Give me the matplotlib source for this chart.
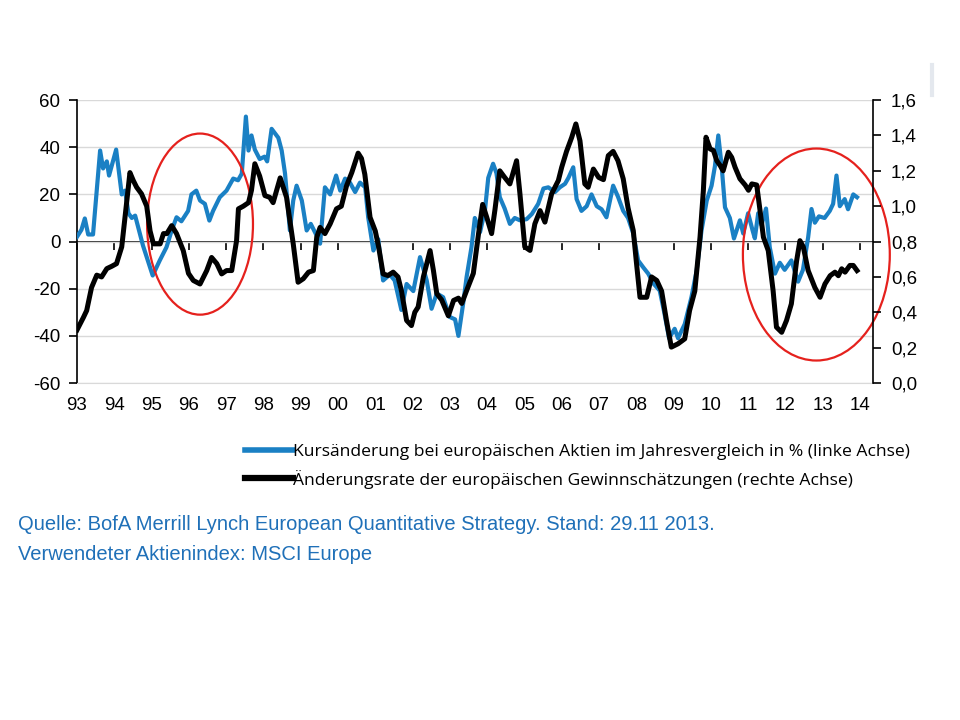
import matplotlib.pyplot as plt
from matplotlib.patches import Ellipse

# Kursaenderung europaeischer Aktien (linke Achse, %)
kurs_jahr = [1993.00, 1993.12, 1993.21, 1993.30, 1993.43, 1993.62, 1993.70, 1993.80, 1993.86, 1994.05,
             1994.20, 1994.29, 1994.38, 1994.47, 1994.56, 1994.77, 1995.03, 1995.22, 1995.40, 1995.54,
             1995.67, 1995.80, 1995.98, 1996.07, 1996.20, 1996.30, 1996.43, 1996.55, 1996.65, 1996.83,
             1997.01, 1997.19, 1997.32, 1997.42, 1997.53, 1997.60, 1997.68, 1997.77, 1997.90, 1998.03,
             1998.10, 1998.22, 1998.40, 1998.49, 1998.58, 1998.71, 1998.80, 1998.89, 1999.03, 1999.16,
             1999.27, 1999.40, 1999.52, 1999.65, 1999.79, 1999.95, 2000.06, 2000.19, 2000.32, 2000.46,
             2000.59, 2000.73, 2000.81, 2000.95, 2001.08, 2001.21, 2001.39, 2001.52, 2001.70, 2001.84,
             2002.02, 2002.20, 2002.38, 2002.51, 2002.65, 2002.82, 2003.00, 2003.14, 2003.23, 2003.36,
             2003.45, 2003.58, 2003.67, 2003.81, 2003.94, 2004.03, 2004.16, 2004.25, 2004.34, 2004.47,
             2004.61, 2004.74, 2004.88, 2005.06, 2005.20, 2005.37, 2005.51, 2005.64, 2005.82, 2005.95,
             2006.09, 2006.18, 2006.31, 2006.40, 2006.53, 2006.67, 2006.80, 2006.94, 2007.07, 2007.20,
             2007.38, 2007.51, 2007.65, 2007.78, 2007.92, 2008.05, 2008.19, 2008.32, 2008.46, 2008.63,
             2008.75, 2008.88, 2009.03, 2009.12, 2009.30, 2009.48, 2009.62, 2009.75, 2009.89, 2010.02,
             2010.11, 2010.20, 2010.29, 2010.38, 2010.51, 2010.62, 2010.78, 2010.87, 2011.00, 2011.12,
             2011.18, 2011.27, 2011.36, 2011.48, 2011.58, 2011.72, 2011.85, 2011.98, 2012.16, 2012.34,
             2012.47, 2012.61, 2012.70, 2012.79, 2012.90, 2013.05, 2013.19, 2013.28, 2013.37, 2013.46,
             2013.59, 2013.68, 2013.82, 2013.92]
kurs_pct = [2, 5, 9.8, 3, 3, 38.6, 31, 34, 28, 39,
            20, 21.6, 12, 10, 11, -1.7, -14.4, -8, -2.4, 4.7,
            10.3, 8.6, 13, 20, 21.6, 17.4, 16, 8.9, 13, 18.8,
            21.6, 26.7, 26, 28.8, 53, 38.6, 45, 39, 35, 36,
            34, 47.8, 44, 38.6, 28.8, 4.7, 17.4, 23.7, 17.4, 4.7,
            7.5, 3.4, -0.9, 23, 20, 28, 21.6, 26.7, 25, 21,
            25, 23, 10.3, -3.8, 1, -16.5, -14, -16.5, -29, -18,
            -21, -6.6, -16.5, -28.5, -22, -23.6, -32, -33, -40, -26,
            -15, -2.4, 10, 4, 13, 27, 33, 29, 18.8, 14,
            7.5, 10, 9, 9.5, 11.7, 16, 22.5, 23, 21, 23,
            24.5, 27, 31.5, 18, 13, 15, 20, 15, 13.7, 10.3,
            23.7, 19, 13, 10, 3.4, -8, -11, -13.6, -17.8, -20.8,
            -30, -41, -37, -41, -35, -23.6, -12.3, 4.7, 17.4, 23.7,
            32, 45, 32, 14.5, 10, 1.3, 9, 3.4, 12, 4.7,
            1.4, 12, 7, 14, -2.4, -13.6, -9, -12, -8, -17,
            -12, 1.8, 13.8, 8, 10.7, 10, 13, 16, 28, 15,
            18, 13.7, 20, 18.8]

# Aenderungsrate der Gewinnschaetzungen (rechte Achse)
gewinn_jahr = [1993.00, 1993.17, 1993.26, 1993.39, 1993.53, 1993.66, 1993.80, 1993.93, 1994.06, 1994.20,
               1994.29, 1994.42, 1994.51, 1994.60, 1994.73, 1994.87, 1994.96, 1995.05, 1995.23, 1995.32,
               1995.41, 1995.54, 1995.67, 1995.85, 1995.99, 1996.12, 1996.30, 1996.48, 1996.61, 1996.75,
               1996.88, 1997.01, 1997.15, 1997.28, 1997.33, 1997.46, 1997.60, 1997.68, 1997.77, 1997.90,
               1998.04, 1998.17, 1998.26, 1998.45, 1998.62, 1998.80, 1998.93, 1999.07, 1999.21, 1999.34,
               1999.43, 1999.52, 1999.65, 1999.79, 1999.96, 2000.09, 2000.23, 2000.37, 2000.54, 2000.63,
               2000.72, 2000.86, 2001.00, 2001.09, 2001.21, 2001.34, 2001.48, 2001.61, 2001.70, 2001.84,
               2001.97, 2002.06, 2002.15, 2002.29, 2002.47, 2002.56, 2002.65, 2002.78, 2002.96, 2003.10,
               2003.23, 2003.32, 2003.45, 2003.63, 2003.77, 2003.88, 2003.99, 2004.12, 2004.21, 2004.34,
               2004.47, 2004.61, 2004.79, 2004.88, 2005.01, 2005.15, 2005.28, 2005.42, 2005.55, 2005.73,
               2005.91, 2006.00, 2006.13, 2006.27, 2006.38, 2006.49, 2006.62, 2006.71, 2006.85, 2006.99,
               2007.12, 2007.25, 2007.38, 2007.51, 2007.65, 2007.78, 2007.92, 2008.00, 2008.10, 2008.28,
               2008.41, 2008.55, 2008.68, 2008.81, 2008.94, 2009.12, 2009.30, 2009.43, 2009.57, 2009.71,
               2009.80, 2009.87, 2009.98, 2010.07, 2010.16, 2010.25, 2010.33, 2010.47, 2010.56, 2010.65,
               2010.78, 2010.92, 2011.01, 2011.10, 2011.23, 2011.32, 2011.41, 2011.54, 2011.67, 2011.76,
               2011.90, 2012.03, 2012.16, 2012.30, 2012.39, 2012.48, 2012.61, 2012.79, 2012.93, 2013.06,
               2013.20, 2013.33, 2013.42, 2013.51, 2013.60, 2013.73, 2013.82, 2013.92]
gewinn_rate = [0.30, 0.37, 0.41, 0.54, 0.61, 0.60, 0.647, 0.66, 0.675, 0.77,
               0.94, 1.19, 1.145, 1.107, 1.07, 1.0, 0.86, 0.787, 0.787, 0.845,
               0.845, 0.89, 0.845, 0.749, 0.62, 0.58, 0.56, 0.636, 0.71, 0.675,
               0.617, 0.636, 0.636, 0.805, 0.985, 1.0, 1.02, 1.09, 1.24, 1.17,
               1.06, 1.05, 1.02, 1.16, 1.05, 0.787, 0.57, 0.59, 0.627, 0.636,
               0.824, 0.88, 0.845, 0.90, 0.985, 1.0, 1.116, 1.19, 1.30, 1.27,
               1.18, 0.937, 0.86, 0.77, 0.617, 0.608, 0.627, 0.60, 0.523, 0.354,
               0.325, 0.40, 0.43, 0.60, 0.749, 0.636, 0.505, 0.47, 0.38, 0.467,
               0.48, 0.45, 0.523, 0.62, 0.845, 1.01, 0.937, 0.845, 0.98, 1.2,
               1.163, 1.126, 1.257, 1.07, 0.77, 0.75, 0.90, 0.975, 0.91, 1.07,
               1.145, 1.22, 1.31, 1.39, 1.465, 1.37, 1.126, 1.107, 1.21, 1.163,
               1.15, 1.286, 1.31, 1.257, 1.155, 0.99, 0.862, 0.69, 0.485, 0.485,
               0.60, 0.58, 0.52, 0.354, 0.203, 0.222, 0.25, 0.41, 0.52, 0.825,
               1.09, 1.39, 1.324, 1.315, 1.257, 1.23, 1.2, 1.305, 1.276, 1.22,
               1.155, 1.12, 1.09, 1.126, 1.12, 0.975, 0.825, 0.749, 0.523, 0.316,
               0.287, 0.354, 0.448, 0.69, 0.805, 0.77, 0.636, 0.54, 0.485, 0.56,
               0.607, 0.627, 0.607, 0.646, 0.627, 0.665, 0.665, 0.636]

jahre = list(range(1993, 2015))
jahr_labels = ['%02d' % (j % 100) for j in jahre]
links_ticks = [-60, -40, -20, 0, 20, 40, 60]
rechts_ticks = [0.0, 0.2, 0.4, 0.6, 0.8, 1.0, 1.2, 1.4, 1.6]
rechts_labels = ['0,0', '0,2', '0,4', '0,6', '0,8', '1,0', '1,2', '1,4', '1,6']

blau = '#1A80C4'
tick_font = 'Liberation Sans'
tick_size = 13.5

fig = plt.figure(figsize=(9.6, 7.2), dpi=100)
ax = fig.add_axes([0.0802, 0.468, 0.8292, 0.393])

ax.plot(kurs_jahr, kurs_pct, color=blau, lw=3.0, solid_joinstyle='round', zorder=3)
ax.set_ylim(-60, 60)
ax.set_xlim(1993, 2014.35)
ax.set_yticks(links_ticks)
ax.set_yticklabels([str(v) for v in links_ticks], fontsize=tick_size, family=tick_font)
ax.set_xticks(jahre)
ax.set_xticklabels(jahr_labels, fontsize=tick_size, family=tick_font)
ax.tick_params(axis='x', length=0, pad=10)
ax.tick_params(axis='y', direction='out', length=6, width=1.2, pad=6)
ax.grid(axis='y', color='#D9D9D9', lw=1)
ax.set_axisbelow(True)
for s in ['top', 'right']:
    ax.spines[s].set_visible(False)
ax.spines['bottom'].set_color('#D9D9D9')
ax.spines['left'].set_linewidth(1.2)

# Nulllinie mit Jahresstrichen
null = ax.secondary_xaxis(0.5)
null.set_xticks(jahre)
null.tick_params(direction='in', length=6, width=1.2, labeltop=False, labelbottom=False)
null.spines['top'].set_linewidth(1.2)

ax2 = ax.twinx()
ax2.plot(gewinn_jahr, gewinn_rate, color='black', lw=3.6, solid_joinstyle='round', zorder=4)
ax2.set_ylim(0, 1.6)
ax2.set_yticks(rechts_ticks)
ax2.set_yticklabels(rechts_labels, fontsize=tick_size, family=tick_font)
ax2.tick_params(axis='y', direction='out', length=6, width=1.2, pad=7)
for s in ['top', 'left', 'bottom']:
    ax2.spines[s].set_visible(False)
ax2.spines['right'].set_linewidth(1.2)

# rote Markierungen
ax.add_patch(Ellipse((1996.30, 7.4), 2.84, 76.8, fill=False, ec='#E5211D', lw=1.6, clip_on=False, zorder=5))
ax.add_patch(Ellipse((2012.83, -5.5), 3.94, 89.9, fill=False, ec='#E5211D', lw=1.6, clip_on=False, zorder=5))

# Legende
h1, = ax.plot([], [], color=blau, lw=4)
h2, = ax.plot([], [], color='black', lw=4.5)
fig.legend([h1, h2],
           ['Kursänderung bei europäischen Aktien im Jahresvergleich in % (linke Achse)',
            'Änderungsrate der europäischen Gewinnschätzungen (rechte Achse)'],
           loc='upper left', bbox_to_anchor=(0.255, 0.384), frameon=False,
           prop={'family': 'Open Sans', 'size': 12.6}, handlelength=2.75, handletextpad=0.0,
           labelspacing=0.56, borderaxespad=0, borderpad=0)

quelle_farbe = '#1F70B8'
fig.text(0.019, 0.271, 'Quelle: BofA Merrill Lynch European Quantitative Strategy. Stand: 29.11 2013.',
         color=quelle_farbe, fontsize=14.5, family=tick_font, va='center')
fig.text(0.019, 0.230, 'Verwendeter Aktienindex: MSCI Europe',
         color=quelle_farbe, fontsize=14.5, family=tick_font, va='center')

# kleiner grauer Balken oben rechts
fig.add_artist(plt.Line2D([0.971, 0.971], [0.868, 0.91], color='#E4E8EE', lw=3, transform=fig.transFigure))

fig.savefig('out.png', dpi=100)
